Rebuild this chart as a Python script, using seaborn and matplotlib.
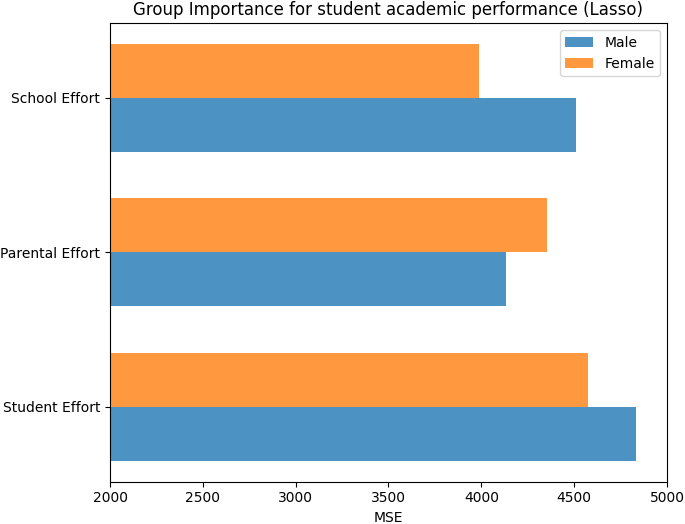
import matplotlib
matplotlib.use("Agg")
import matplotlib.pyplot as plt
import seaborn as sns
import pandas as pd

groups = ["School Effort", "Parental Effort", "Student Effort"]
male_mse = [4510, 4135, 4831]
female_mse = [3986, 4355, 4575]

df = pd.DataFrame({
    "group": groups * 2,
    "sex": ["Male"] * 3 + ["Female"] * 3,
    "mse": male_mse + female_mse,
})

fig, ax = plt.subplots(figsize=(6.85, 5.24), dpi=100)
fig.subplots_adjust(left=0.1606, right=0.9737, top=0.956, bottom=0.081)

sns.barplot(data=df, y="group", x="mse", hue="sex", order=groups,
            hue_order=["Female", "Male"], orient="h", width=0.7, alpha=0.8,
            palette={"Male": "#1f77b4", "Female": "#ff7f0e"},
            errorbar=None, saturation=1, ax=ax)

ax.set_xlim(2000, 5000)
ax.set_ylim(2.485, -0.485)
ax.set_xlabel("MSE")
ax.set_ylabel("")
ax.set_title("Group Importance for student academic performance (Lasso)")

# legend lists Male first
handles, labels = ax.get_legend_handles_labels()
ax.legend(handles[::-1], labels[::-1], loc="upper right")

fig.savefig("out.png", dpi=100)
